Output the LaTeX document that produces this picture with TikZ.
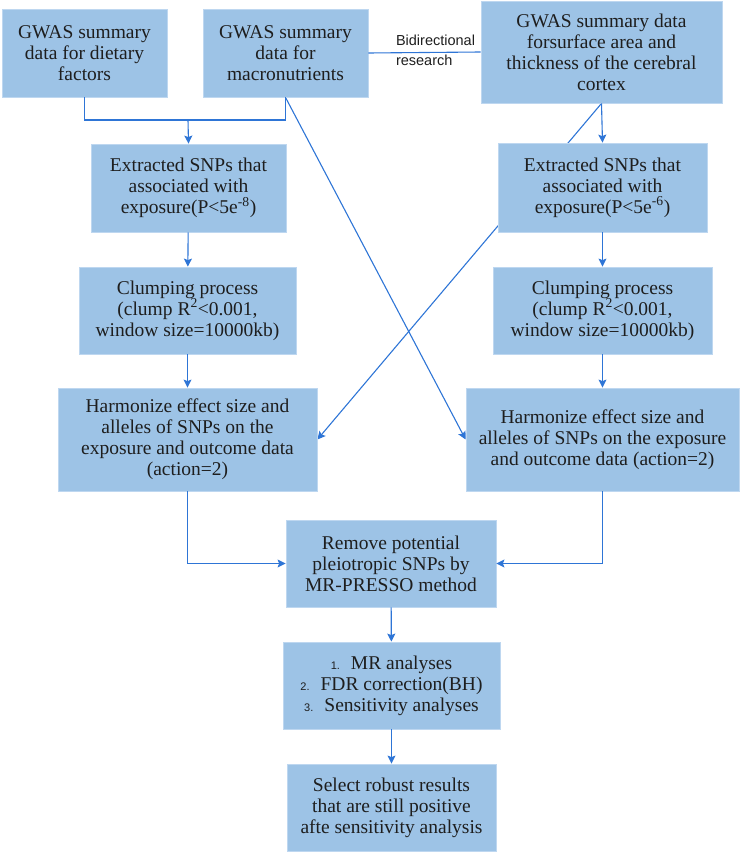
\documentclass[tikz,border=0pt]{standalone}
\usepackage{fontspec}
\setmainfont{Liberation Serif}
\newfontfamily\labelfont{Liberation Sans}
\usepackage{tikz}
\usetikzlibrary{arrows.meta, backgrounds}
\definecolor{boxfill}{RGB}{157, 195, 230}
\definecolor{boxedge}{RGB}{190, 215, 240}
\definecolor{linkblue}{RGB}{46, 117, 214}
\definecolor{textdark}{RGB}{30, 30, 30}
\tikzset{
  box/.style={fill=boxfill, draw=boxedge, line width=0.8pt, align=center, inner sep=0pt,
    text=textdark, font=\fontsize{19.5}{21}\selectfont},
  link/.style={draw=linkblue, line width=1.1pt},
  arrow/.style={link, -{Stealth[length=8pt, width=8pt, inset=1.5pt]}}
}
\newcommand{\numtag}[1]{{\labelfont\fontsize{11}{21}\selectfont #1}\hspace{11pt}}

\begin{document}
\begin{tikzpicture}[x=1pt, y=-1pt]
            \useasboundingbox (0,0) rectangle (740,853);

            % Data sources
            \node[box, minimum width=165pt, minimum height=88pt] (diet) at (84.5,53)
              {GWAS summary\\data for dietary\\factors};
            \node[box, minimum width=165pt, minimum height=88pt] (macro) at (285.5,53)
              {GWAS summary\\data for\\macronutrients};
            \node[box, minimum width=241pt, minimum height=102pt] (cortex) at (601.5,52)
              {GWAS summary data\\forsurface area and\\thickness of the cerebral\\cortex};
            \node[align=left, text=textdark, font=\labelfont\fontsize{14.5}{20}\selectfont] (bidir) at (435.5,50)
              {Bidirectional\\research};

            % Left branch
            \node[box, minimum width=195pt, minimum height=88pt] (extrL) at (188.5,188)
              {Extracted SNPs that\\associated with\\exposure(P<5e\textsuperscript{-8})};
            \node[box, minimum width=217pt, minimum height=87pt] (clumpL) at (187.5,310.5)
              {Clumping process\\(clump R\textsuperscript{2}<0.001,\\window size=10000kb)};
            \node[box, minimum width=259pt, minimum height=103pt] (harmL) at (187.5,439.5)
              {Harmonize effect size and\\alleles of SNPs on the\\exposure and outcome data\\(action=2)};

            % Right branch
            \node[box, minimum width=209pt, minimum height=89pt] (extrR) at (602.5,187.5)
              {Extracted SNPs that\\associated with\\exposure(P<5e\textsuperscript{-6})};
            \node[box, minimum width=219pt, minimum height=87pt] (clumpR) at (602.5,310.5)
              {Clumping process\\(clump R\textsuperscript{2}<0.001,\\window size=10000kb)};
            \node[box, minimum width=273pt, minimum height=103pt] (harmR) at (602.5,439.5)
              {Harmonize effect size and\\alleles of SNPs on the exposure\\and outcome data (action=2)};

            % Common steps
            \node[box, minimum width=210pt, minimum height=87pt] (presso) at (391,563.5)
              {Remove potential\\pleiotropic SNPs by\\MR-PRESSO method};
            \node[box, minimum width=217pt, minimum height=87pt] (mr) at (391.5,685.5)
              {\numtag{1.}MR analyses\\\numtag{2.}FDR correction(BH)\\\numtag{3.}Sensitivity analyses};
            \node[box, minimum width=209pt, minimum height=87pt] (select) at (391.5,807.5)
              {Select robust results\\that are still positive\\afte sensitivity analysis};

            % Connectors
            \coordinate (join) at (188,120);
            \draw[link] (diet.south) |- (join) -| (macro.south);
            \draw[arrow] (join) -- (extrL.north);
            \draw[link] (macro.east) -- (cortex.west);
            \draw[arrow] (cortex.south) -- (extrR.north);
            \begin{scope}[on background layer]
              \draw[arrow] (macro.south) -- (harmR.west);
              \draw[arrow] (cortex.south) -- (harmL.east);
            \end{scope}
            \draw[arrow] (extrL) -- (clumpL);
            \draw[arrow] (clumpL) -- (harmL);
            \draw[arrow] (extrR) -- (clumpR);
            \draw[arrow] (clumpR) -- (harmR);
            \draw[arrow] (harmL.south) |- (presso.west);
            \draw[arrow] (harmR.south) |- (presso.east);
            \draw[arrow] (presso) -- (mr);
            \draw[arrow] (mr) -- (select);
        \end{tikzpicture}
\end{document}
